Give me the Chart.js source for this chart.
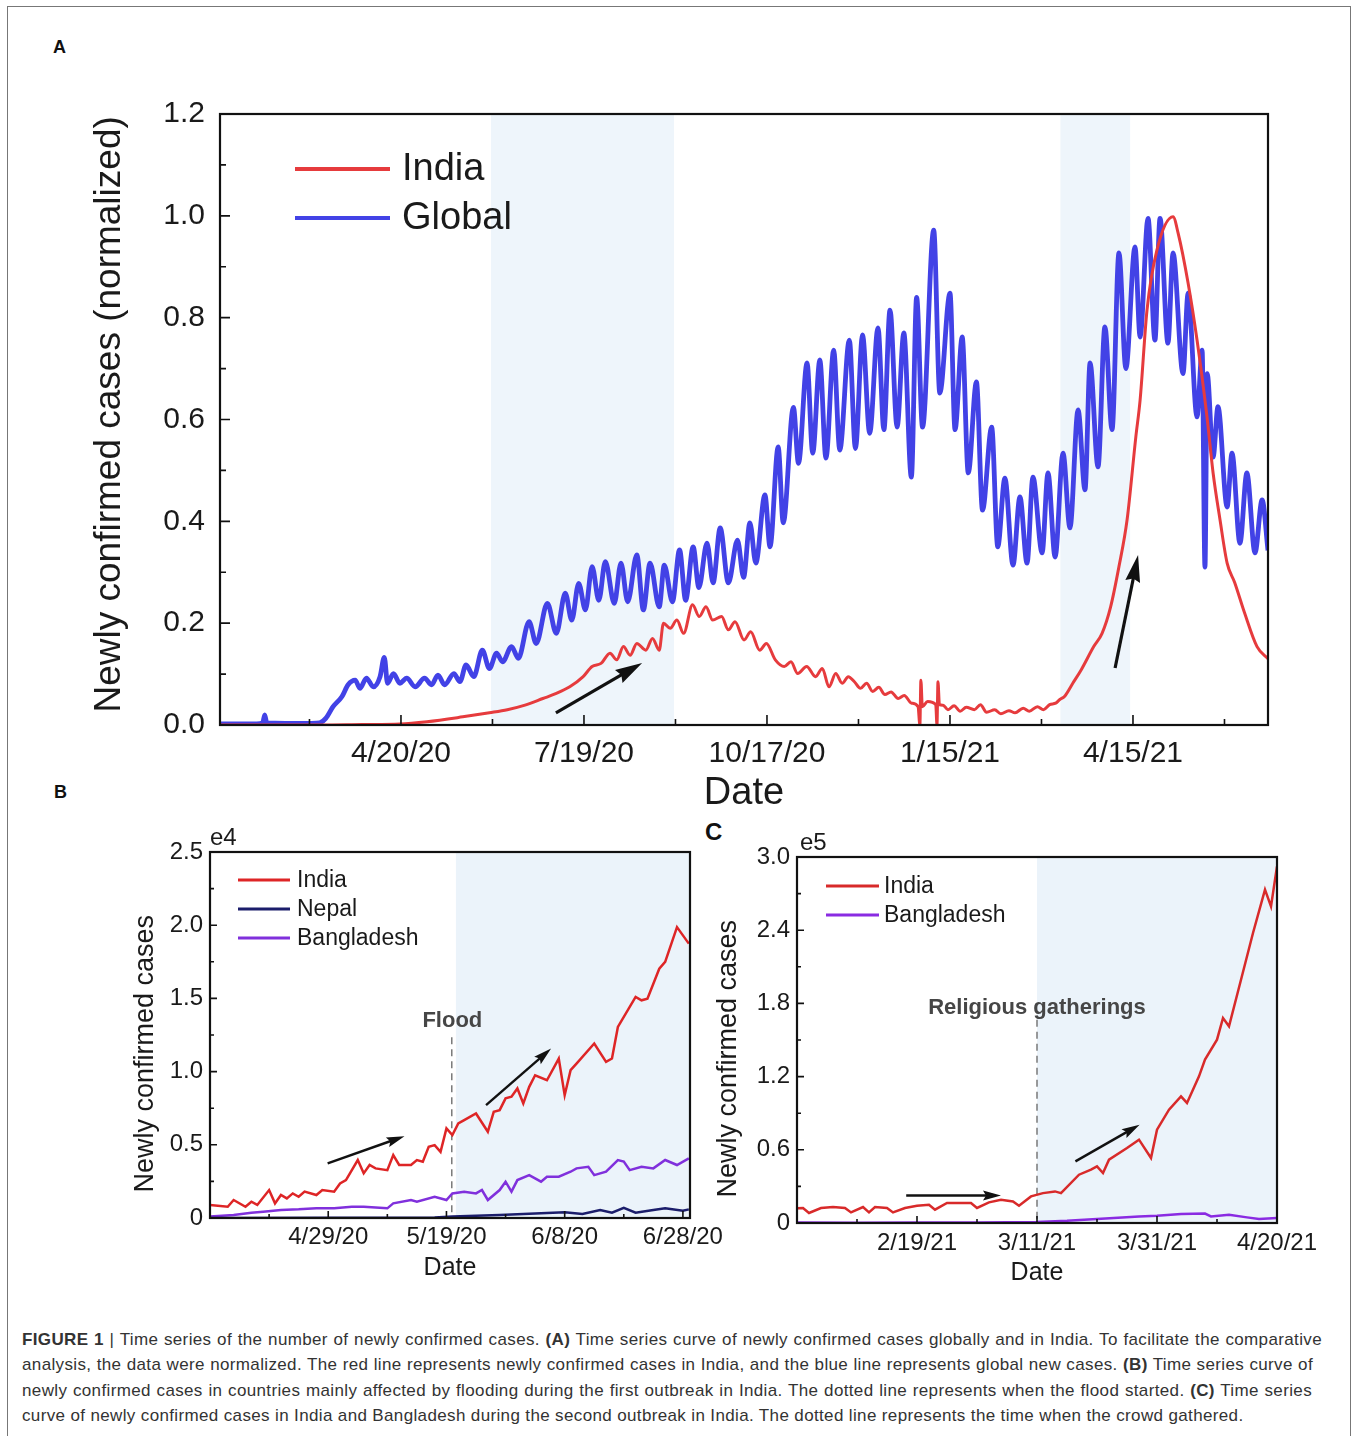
<!DOCTYPE html>
<html><head><meta charset="utf-8">
<script src="https://cdn.jsdelivr.net/npm/chart.js@4.4.1/dist/chart.umd.min.js"></script>
<style>
body{margin:0;background:#fff;width:1357px;height:1436px;overflow:hidden;position:relative;font-family:"Liberation Sans",Arial,Helvetica,sans-serif;}
#frame{position:absolute;left:7px;top:6px;width:1344px;height:1445px;border:1px solid #777;box-sizing:border-box;}
canvas{position:absolute;}
.pl{position:absolute;font-weight:bold;color:#111;line-height:1;}
.cap{position:absolute;left:22px;font-size:17px;letter-spacing:0.36px;line-height:1;color:#333;white-space:nowrap;}
.j{text-align:justify;text-align-last:justify;}
</style></head>
<body>
<div id="frame"></div>
<div class="pl" style="left:53px;top:38px;font-size:18px;">A</div>
<div class="pl" style="left:54px;top:783px;font-size:18px;">B</div>
<div class="pl" style="left:705px;top:820px;font-size:24px;">C</div>
<canvas id="cA" width="1240" height="740" style="left:60px;top:90px;"></canvas>
<canvas id="cB" width="650" height="470" style="left:100px;top:820px;"></canvas>
<canvas id="cC" width="650" height="470" style="left:690px;top:820px;"></canvas>
<div class="cap j" style="top:1331px;width:1300px;"><b>FIGURE 1</b> | Time series of the number of newly confirmed cases. <b>(A)</b> Time series curve of newly confirmed cases globally and in India. To facilitate the comparative</div>
<div class="cap j" style="top:1356px;width:1291px;">analysis, the data were normalized. The red line represents newly confirmed cases in India, and the blue line represents global new cases. <b>(B)</b> Time series curve of</div>
<div class="cap j" style="top:1382px;width:1290px;">newly confirmed cases in countries mainly affected by flooding during the first outbreak in India. The dotted line represents when the flood started. <b>(C)</b> Time series</div>
<div class="cap" style="top:1407px;">curve of newly confirmed cases in India and Bangladesh during the second outbreak in India. The dotted line represents the time when the crowd gathered.</div>
<script>
// ---------- Panel A data (x = days since 1/22/20, y = normalized) ----------
const aTickDays = [89, 179, 269, 359, 449];
const aTickLabels = ['4/20/20', '7/19/20', '10/17/20', '1/15/21', '4/15/21'];
const aGlobalDays = [0,18,21,22,23,45,49,52,55.6,60,63,66.5,68.8,72,75.4,78.7,80.8,82.4,85.3,88.5,91.8,96,100.6,104,107.2,110.5,115,118,121,124.8,129,132.5,136,139,143.4,146.7,152,155.5,161,165.4,169.8,173,176.4,179.7,183,186.3,189.5,193.9,197.2,200.5,205,208.2,211.5,216,218.5,222.5,226,229,232.7,235.5,239.5,242.5,246,250,254.5,257.5,260.6,263.5,268,270.5,274.5,277,282,284.5,288.7,291.5,295,298,301.8,304.8,309.5,312.5,316,319.5,323.6,326.5,329.5,333,336.3,340,342.6,345.5,351,354,359,361.5,365,368,372,375,379.5,382.5,386,390,393.4,396.9,399.8,404.3,407.2,410.7,414.6,418,422,425.4,427.9,431.8,435.2,438.7,442.1,445.5,450,452.5,456.4,459.8,462.3,466.2,468.7,473.6,476.1,480.5,483,484.4,485.5,488.4,490.8,495.3,497.7,501.6,505,509,512.5,515.4];
const aGlobalVals = [0.002,0.002,0.004,0.02,0.004,0.003,0.004,0.013,0.036,0.056,0.079,0.088,0.072,0.092,0.075,0.095,0.133,0.082,0.101,0.082,0.092,0.075,0.092,0.079,0.098,0.079,0.101,0.085,0.118,0.095,0.147,0.111,0.141,0.124,0.154,0.131,0.203,0.16,0.239,0.18,0.259,0.206,0.278,0.226,0.311,0.245,0.321,0.239,0.318,0.242,0.334,0.226,0.318,0.232,0.314,0.242,0.344,0.245,0.35,0.27,0.357,0.279,0.387,0.279,0.363,0.29,0.397,0.318,0.452,0.35,0.546,0.397,0.624,0.514,0.711,0.534,0.717,0.524,0.736,0.54,0.756,0.543,0.766,0.573,0.78,0.58,0.815,0.585,0.77,0.487,0.84,0.585,0.972,0.652,0.848,0.58,0.762,0.495,0.674,0.422,0.585,0.35,0.485,0.314,0.448,0.318,0.487,0.338,0.495,0.33,0.534,0.387,0.619,0.462,0.711,0.507,0.782,0.58,0.927,0.70,0.939,0.762,0.995,0.756,0.995,0.75,0.927,0.69,0.848,0.605,0.736,0.31,0.69,0.526,0.625,0.428,0.534,0.357,0.495,0.338,0.442,0.343];
const aIndiaDays = [0,50,70,88.5,101.8,119.4,132.5,141.3,150,158.8,165.4,172,178.6,183,187.4,191.8,195.1,198.4,201.7,205,209.4,212.7,216,218.1,221.4,224.7,228,232.4,235.7,239,242.3,246.7,250,253.3,257.7,261,265.4,268.7,273.1,277.5,280.8,284.1,288.5,292.9,296.2,299.5,302.8,306,309,312,315,318,321,324,327,330,333.5,336.5,340,343.3,344.2,344.7,345.4,348,352,352.6,353.1,353.8,355.6,358,361,364,367,371,374,377,381,384,388,391,395,398,402,405,408,411,413,415.3,419.4,423.5,429.7,433.8,438,442.1,446.1,450.4,452.5,455.9,460.8,468.7,471.2,476.1,480.5,485.4,488.4,491.8,495.3,499,503.9,510,515.4];
const aIndiaVals = [0,0,0.001,0.002,0.0065,0.016,0.024,0.03,0.039,0.052,0.062,0.075,0.095,0.115,0.121,0.141,0.128,0.154,0.137,0.16,0.147,0.17,0.147,0.2,0.19,0.206,0.18,0.236,0.213,0.232,0.206,0.213,0.187,0.203,0.167,0.183,0.147,0.16,0.128,0.115,0.124,0.101,0.115,0.095,0.111,0.075,0.101,0.082,0.095,0.085,0.072,0.082,0.066,0.074,0.06,0.065,0.052,0.058,0.043,0.036,0.0,0.088,0.036,0.046,0.04,0.0,0.085,0.04,0.039,0.03,0.038,0.027,0.035,0.03,0.04,0.025,0.03,0.022,0.028,0.024,0.033,0.027,0.036,0.03,0.04,0.043,0.05,0.056,0.082,0.108,0.154,0.18,0.232,0.311,0.403,0.566,0.638,0.815,0.933,0.998,0.966,0.868,0.756,0.605,0.495,0.403,0.318,0.28,0.22,0.154,0.13];

// ---------- Panel B data (x = days since 4/9/20, y = cases) ----------
const bTickDays = [20, 40, 60, 80];
const bTickLabels = ['4/29/20', '5/19/20', '6/8/20', '6/28/20'];
const bIndiaDays = [0,3,4,6,7,8,10,11,12,13,14,15,16,18,19,21,22,23,25,26,27,28,30,31,32,34,35,36,37,38,39,40,41,42,43,45,47,48,49,50,51,52,53,54,55,57,59,60,61,62,65,67,68,69,72,73,74,76,77,79,81];
const bIndiaVals = [890,770,1230,770,1110,890,1910,1000,1570,1340,1680,1450,1800,1570,1910,1800,2360,2590,3960,3050,3620,3390,3270,4300,3620,3620,3960,3850,4860,4980,4520,6120,5660,6460,6690,7140,5890,7250,7370,8170,8280,8850,7820,8960,9750,9410,10890,8390,10100,10550,11920,10660,10890,13050,15100,14870,14980,17030,17490,19870,18740];
const bNepalDays = [0,20,38,41,49,55,60,63,66,68,70,72,75,77,80,81];
const bNepalVals = [0,10,40,100,200,300,400,270,550,360,700,360,550,660,500,590];
const bBangDays = [0,4,7,9,12,15,18,21,24,26,30,31,34,35,38,40,41,43,45,46,47,49,50,51,52,54,56,57,59,61,62,64,65,67,69,70,71,73,75,77,79,81];
const bBangVals = [100,200,360,430,550,590,660,660,770,770,660,1000,1230,1110,1450,1230,1680,1800,1680,1910,1230,1910,2480,1800,2590,2930,2480,2820,2820,3160,3390,3500,2930,3160,3960,3850,3270,3500,3390,3960,3620,4070];

// ---------- Panel C data (x = days since 1/30/21, y = cases) ----------
const cTickDays = [20, 40, 60, 80];
const cTickLabels = ['2/19/21', '3/11/21', '3/31/21', '4/20/21'];
const cIndiaDays = [0,1,2,4,6,8,9,11,12,13,15,16,18,20,22,23,25,27,29,30,32,34,36,37,39,41,43,44,47,49,50,51,52,55,57,59,60,62,64,65,67,68,70,71,72,74,76,78,79,80];
const cIndiaVals = [12000,12300,8200,12300,13100,12300,8700,13100,8700,13100,12300,8700,12300,14200,15000,10900,16400,16400,16400,12300,16900,19100,17700,14200,21800,24500,25900,24500,39600,43700,46400,41000,51900,61500,68300,53300,76500,92900,103800,98400,120200,133900,150300,168000,161200,199400,237700,273200,259500,292300];
const cBangDays = [0,10,20,30,40,45,50,57,60,64,68,69,72,75,77,80];
const cBangVals = [350,300,400,500,900,1800,3300,5400,6000,7400,7700,5400,6800,4600,3300,4100];

const FONT = '"Liberation Sans", Arial, Helvetica, sans-serif';
Chart.defaults.font.family = FONT;
Chart.defaults.color = '#1a1a1a';
const NB = '\u00a0';

function pts(xs, ys) { return xs.map((x, i) => ({ x: x, y: ys[i] })); }
function labelOf(ticks, labels) { return v => { const i = ticks.indexOf(v); return i >= 0 ? labels[i] : ''; }; }
function range(a, b, s) { const r = []; for (let v = a; v <= b + 1e-9; v += s) r.push(+v.toFixed(6)); return r; }

function decor(o) {
  return {
    id: 'decor' + o.name,
    beforeDatasetsDraw(chart) {
      const { ctx, chartArea: a } = chart; const X = chart.scales.x, Y = chart.scales.y;
      ctx.save();
      ctx.fillStyle = o.bandColor;
      o.bands.forEach(b => {
        const x0 = Math.max(a.left, X.getPixelForValue(b[0])), x1 = Math.min(a.right, X.getPixelForValue(b[1]));
        ctx.fillRect(x0, a.top, x1 - x0, a.bottom - a.top);
      });
      if (o.vline) {
        ctx.strokeStyle = '#7a7a7a'; ctx.lineWidth = 1.5; ctx.setLineDash([7, 5]);
        const px = X.getPixelForValue(o.vline.x);
        ctx.beginPath(); ctx.moveTo(px, Y.getPixelForValue(o.vline.y0)); ctx.lineTo(px, Y.getPixelForValue(o.vline.y1)); ctx.stroke();
        ctx.setLineDash([]);
      }
      ctx.restore();
    },
    afterDatasetsDraw(chart) {
      const { ctx, chartArea: a } = chart; const X = chart.scales.x, Y = chart.scales.y;
      ctx.save();
      o.arrows.forEach(ar => {
        const x0 = X.getPixelForValue(ar[0]), y0 = Y.getPixelForValue(ar[1]);
        const x1 = X.getPixelForValue(ar[2]), y1 = Y.getPixelForValue(ar[3]);
        const ang = Math.atan2(y1 - y0, x1 - x0);
        const hl = o.arrowHead[0], hw = o.arrowHead[1];
        const c = Math.cos(ang), s = Math.sin(ang);
        const bx = x1 - hl * c, by = y1 - hl * s;
        ctx.strokeStyle = '#111'; ctx.fillStyle = '#111'; ctx.lineWidth = o.arrowWidth;
        ctx.beginPath(); ctx.moveTo(x0, y0); ctx.lineTo(bx + 2 * c, by + 2 * s); ctx.stroke();
        ctx.beginPath();
        ctx.moveTo(x1, y1);
        ctx.lineTo(bx - hw / 2 * s - 3 * c, by + hw / 2 * c - 3 * s);
        ctx.lineTo(bx, by);
        ctx.lineTo(bx + hw / 2 * s - 3 * c, by - hw / 2 * c - 3 * s);
        ctx.closePath(); ctx.fill();
      });
      (o.texts || []).forEach(t => {
        ctx.font = 'bold ' + t.size + 'px ' + FONT; ctx.fillStyle = '#464646';
        ctx.textAlign = 'center'; ctx.textBaseline = 'middle';
        ctx.fillText(t.text, X.getPixelForValue(t.x), Y.getPixelForValue(t.y));
      });
      const L = o.legend;
      chart.data.datasets.forEach((ds, i) => {
        const y = a.top + L.y0 + i * L.dy;
        ctx.strokeStyle = ds.borderColor; ctx.lineWidth = L.lw;
        ctx.beginPath(); ctx.moveTo(a.left + L.x0, y); ctx.lineTo(a.left + L.x1, y); ctx.stroke();
        ctx.font = L.size + 'px ' + FONT; ctx.fillStyle = '#1a1a1a';
        ctx.textAlign = 'left'; ctx.textBaseline = 'middle';
        ctx.fillText(ds.label, a.left + L.tx, y + 1);
      });
      ctx.restore();
    },
    afterDraw(chart) {
      const { ctx, chartArea: a } = chart; const X = chart.scales.x, Y = chart.scales.y;
      ctx.save();
      ctx.strokeStyle = '#111';
      ctx.lineWidth = 1.6;
      ctx.beginPath();
      o.xMajor.forEach(v => { const p = X.getPixelForValue(v); ctx.moveTo(p, a.bottom); ctx.lineTo(p, a.bottom - o.tl[0]); });
      o.xMinor.forEach(v => { const p = X.getPixelForValue(v); ctx.moveTo(p, a.bottom); ctx.lineTo(p, a.bottom - o.tl[1]); });
      o.yMajor.forEach(v => { const p = Y.getPixelForValue(v); ctx.moveTo(a.left, p); ctx.lineTo(a.left + o.tl[0], p); });
      o.yMinor.forEach(v => { const p = Y.getPixelForValue(v); ctx.moveTo(a.left, p); ctx.lineTo(a.left + o.tl[1], p); });
      ctx.stroke();
      ctx.lineWidth = o.frameWidth;
      ctx.strokeRect(a.left, a.top, a.right - a.left, a.bottom - a.top);
      if (o.unit) {
        ctx.font = o.unit.size + 'px ' + FONT; ctx.fillStyle = '#1a1a1a';
        ctx.textAlign = 'left'; ctx.textBaseline = 'middle';
        ctx.fillText(o.unit.text, a.left + o.unit.dx, a.top + o.unit.dy);
      }
      ctx.restore();
    }
  };
}

function makeChart(id, datasets, s, plug) {
  return new Chart(document.getElementById(id), {
    type: 'line',
    data: { datasets: datasets },
    options: {
      responsive: false, animation: false, devicePixelRatio: 1,
      layout: { padding: s.pad, autoPadding: false },
      plugins: { legend: { display: false }, tooltip: { enabled: false } },
      elements: { point: { radius: 0 } },
      scales: {
        x: {
          type: 'linear', min: s.xmin, max: s.xmax,
          afterBuildTicks: sc => { sc.ticks = s.xTicks.map(v => ({ value: v })); },
          afterFit: sc => { sc.height = s.xh; sc.paddingLeft = 0; sc.paddingRight = 0; sc.paddingTop = 0; sc.paddingBottom = 0; },
          grid: { display: false, drawTicks: false }, border: { display: false },
          ticks: { autoSkip: false, maxRotation: 0, minRotation: 0, padding: s.xpad, font: { size: s.tickSize }, color: '#1a1a1a', callback: labelOf(s.xTicks, s.xLabels) },
          title: { display: true, text: 'Date', font: { size: s.xTitleSize }, color: '#1a1a1a', padding: { top: 0, bottom: s.xTitlePad } }
        },
        y: {
          min: s.ymin, max: s.ymax,
          afterBuildTicks: sc => { sc.ticks = s.yTicks.map(v => ({ value: v })); },
          afterFit: sc => { sc.width = s.yw; sc.paddingTop = 0; sc.paddingBottom = 0; sc.paddingLeft = 0; sc.paddingRight = 0; },
          grid: { display: false, drawTicks: false }, border: { display: false },
          ticks: { autoSkip: false, padding: s.ypad, font: { size: s.yTickSize || s.tickSize }, color: '#1a1a1a', callback: s.yFmt },
          title: { display: true, text: s.yTitle, font: { size: s.yTitleSize }, color: '#1a1a1a', padding: { top: s.yTitlePad, bottom: 0 } }
        }
      }
    },
    plugins: [plug]
  });
}

// ---------- Chart A ----------
makeChart('cA', [
  { label: 'India', data: pts(aIndiaDays, aIndiaVals), borderColor: '#e63b3d', borderWidth: 3, cubicInterpolationMode: 'monotone' },
  { label: 'Global', data: pts(aGlobalDays, aGlobalVals), borderColor: '#4242e6', borderWidth: 4.8, cubicInterpolationMode: 'monotone' }
], {
  pad: { left: 0, top: 24, right: 32, bottom: 0 }, xmin: 0, xmax: 515.4, xTicks: aTickDays, xLabels: aTickLabels,
  xh: 105, xpad: 11, tickSize: 30, xTitleSize: 38, xTitlePad: 14,
  ymin: 0, ymax: 1.2, yTicks: range(0, 1.2, 0.2), yw: 160, ypad: 15, yFmt: v => v.toFixed(1),
  yTitle: NB + 'Newly confirmed cases (normalized)', yTitleSize: 37, yTitlePad: 28
}, decor({
  name: 'A', bandColor: '#eef5fb', bands: [[133.3, 223.3], [413.3, 447.6]],
  arrows: [[165.2, 0.024, 207.6, 0.122], [440.2, 0.112, 451.5, 0.334]], arrowHead: [24, 15], arrowWidth: 3.2,
  legend: { x0: 75, x1: 170, tx: 182, y0: 55, dy: 49, lw: 4, size: 38 },
  xMajor: aTickDays, xMinor: [44, 134, 224, 314, 404, 494], yMajor: range(0, 1.2, 0.2), yMinor: range(0.1, 1.1, 0.2),
  tl: [10, 6], frameWidth: 2.2
}));

// ---------- Chart B ----------
const bYTicks = [0, 5000, 10000, 15000, 20000, 25000];
makeChart('cB', [
  { label: 'India', data: pts(bIndiaDays, bIndiaVals), borderColor: '#de2526', borderWidth: 2.5 },
  { label: 'Nepal', data: pts(bNepalDays, bNepalVals), borderColor: '#1b1d6b', borderWidth: 2.5 },
  { label: 'Bangladesh', data: pts(bBangDays, bBangVals), borderColor: '#8030dc', borderWidth: 2.5 }
], {
  pad: { left: 0, top: 32, right: 60, bottom: 0 }, xmin: 0, xmax: 81.2, xTicks: bTickDays, xLabels: bTickLabels,
  xh: 72, xpad: 5, tickSize: 24, xTitleSize: 25, xTitlePad: 7,
  ymin: 0, ymax: 25000, yTicks: bYTicks, yw: 110, ypad: 7, yFmt: v => v === 0 ? '0' : (v / 1e4).toFixed(1),
  yTitle: 'Newly confirmed cases' + NB + NB + NB + NB + NB, yTitleSize: 27, yTitlePad: 29
}, decor({
  name: 'B', bandColor: '#ebf3fa', bands: [[41.6, 81.2]], vline: { x: 40.9, y0: 12350, y1: 0 },
  arrows: [[19.9, 3730, 32.9, 5590], [46.7, 7710, 57.7, 11570]], arrowHead: [15, 10], arrowWidth: 2.4,
  texts: [{ text: 'Flood', x: 41, y: 13440, size: 22 }],
  legend: { x0: 28, x1: 80, tx: 87, y0: 28, dy: 29, lw: 2.8, size: 23 },
  unit: { text: 'e4', dx: 0, dy: -14, size: 24 },
  xMajor: bTickDays, xMinor: [10, 30, 50, 70], yMajor: bYTicks, yMinor: [2500, 7500, 12500, 17500, 22500],
  tl: [7, 4], frameWidth: 2.2
}));

// ---------- Chart C ----------
const cYTicks = [0, 60000, 120000, 180000, 240000, 300000];
makeChart('cC', [
  { label: 'India', data: pts(cIndiaDays, cIndiaVals), borderColor: '#d82a2a', borderWidth: 2.5 },
  { label: 'Bangladesh', data: pts(cBangDays, cBangVals), borderColor: '#8a2be2', borderWidth: 2.5 }
], {
  pad: { left: 0, top: 37, right: 63, bottom: 0 }, xmin: 0, xmax: 80, xTicks: cTickDays, xLabels: cTickLabels,
  xh: 67, xpad: 6, tickSize: 24, xTitleSize: 25, xTitlePad: 2,
  ymin: 0, ymax: 300000, yTicks: cYTicks, yw: 107, ypad: 7, yFmt: v => v === 0 ? '0' : (v / 1e5).toFixed(1),
  yTitle: 'Newly confirmed cases' + NB + NB + NB + NB + NB, yTitleSize: 27, yTitlePad: 22
}, decor({
  name: 'C', bandColor: '#ebf3fa', bands: [[40, 80]], vline: { x: 40, y0: 166600, y1: 0 },
  arrows: [[18.2, 22600, 34, 22600], [46.4, 50500, 57.1, 80600]], arrowHead: [15, 10], arrowWidth: 2.4,
  texts: [{ text: 'Religious gatherings', x: 40, y: 176500, size: 22 }],
  legend: { x0: 29, x1: 82, tx: 87, y0: 29, dy: 29, lw: 2.8, size: 23 },
  unit: { text: 'e5', dx: 3, dy: -14, size: 24 },
  xMajor: cTickDays, xMinor: [10, 30, 50, 70], yMajor: cYTicks, yMinor: [30000, 90000, 150000, 210000, 270000],
  tl: [7, 4], frameWidth: 2.2
}));
</script>
</body></html>
